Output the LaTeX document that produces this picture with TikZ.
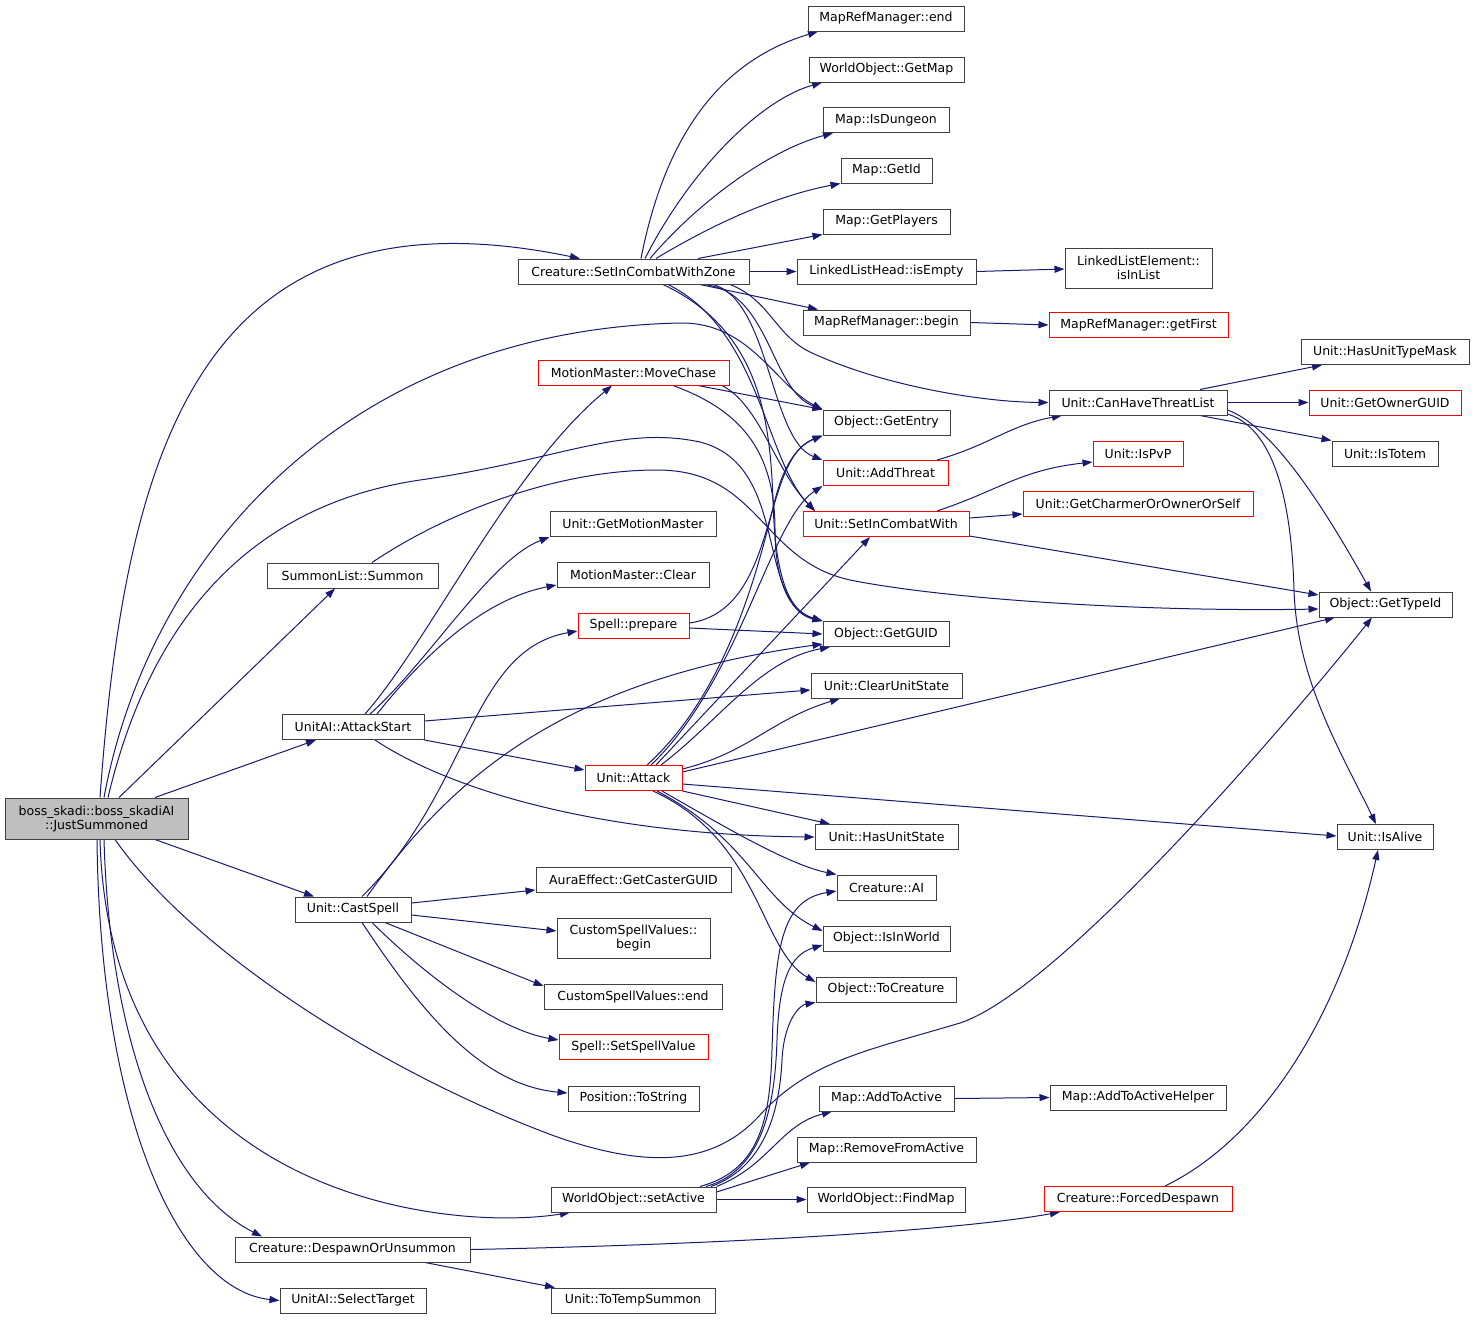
\documentclass[tikz,border=0pt]{standalone}
\usepackage{fontspec}
\setmainfont{DejaVu Sans}
\usetikzlibrary{arrows.meta}
\definecolor{edgec}{HTML}{191970}
\definecolor{bordc}{HTML}{404040}
\definecolor{redc}{HTML}{FF0000}
\definecolor{bossfill}{HTML}{BFBFBF}
\pgfdeclarelayer{back}
\pgfdeclarelayer{bg}
\pgfsetlayers{back,bg,main}
\begin{document}
\begin{tikzpicture}[x=1pt,y=-1pt,
 box/.style={draw=bordc,line width=1pt,fill=white,inner sep=0pt,minimum height=25pt,font=\fontsize{12.5}{14}\selectfont,align=center},
 rbox/.style={box,draw=redc},
 edge/.style={draw=edgec,line width=1pt,-{Triangle[length=10pt,width=7pt]}}]
\useasboundingbox (0,0) rectangle (1475,1320);
\begin{pgfonlayer}{back}
\fill[white] (0,0) rectangle (1475,1320);
\end{pgfonlayer}

\node[box,fill=bossfill,minimum width=183pt,minimum height=41pt] (B) at (96.5,818.5) {boss\_skadi::boss\_skadiAI\\::JustSummoned};
\node[box,minimum width=231pt] (SIZ) at (633.5,271.5) {Creature::SetInCombatWithZone};
\node[box,minimum width=156pt] (MRend) at (886,18.5) {MapRefManager::end};
\node[box,minimum width=155pt] (GetMap) at (886.5,69.5) {WorldObject::GetMap};
\node[box,minimum width=126pt] (IsDungeon) at (886,120) {Map::IsDungeon};
\node[box,minimum width=91pt] (GetId) at (886.5,170.5) {Map::GetId};
\node[box,minimum width=127pt] (GetPlayers) at (886.5,221.5) {Map::GetPlayers};
\node[box,minimum width=179pt] (isEmpty) at (886.5,271.5) {LinkedListHead::isEmpty};
\node[box,minimum width=167pt] (MRbegin) at (886.5,322.5) {MapRefManager::begin};
\node[box,minimum width=147pt,minimum height=40pt] (isInList) at (1138.5,268) {LinkedListElement::\\isInList};
\node[rbox,minimum width=179pt] (getFirst) at (1138.5,325) {MapRefManager::getFirst};
\node[box,minimum width=168pt] (HasUTM) at (1385,352) {Unit::HasUnitTypeMask};
\node[box,minimum width=178pt] (CHTL) at (1138,402.5) {Unit::CanHaveThreatList};
\node[rbox,minimum width=152pt] (GetOwner) at (1385,402.5) {Unit::GetOwnerGUID};
\node[box,minimum width=106pt] (IsTotem) at (1385,453.5) {Unit::IsTotem};
\node[rbox,minimum width=90pt] (IsPvP) at (1138,453.5) {Unit::IsPvP};
\node[rbox,minimum width=230pt] (GetCharmer) at (1138,503.5) {Unit::GetCharmerOrOwnerOrSelf};
\node[box,minimum width=133pt] (GetTypeId) at (1385.5,604.5) {Object::GetTypeId};
\node[box,minimum width=96pt] (IsAlive) at (1385,837) {Unit::IsAlive};
\node[box,minimum width=176pt] (ATAH) at (1138,1097.5) {Map::AddToActiveHelper};
\node[rbox,minimum width=188pt] (Forced) at (1138,1199) {Creature::ForcedDespawn};

\node[box,minimum width=127pt] (GetEntry) at (886.5,422.5) {Object::GetEntry};
\node[rbox,minimum width=125pt] (AddThreat) at (885.5,473) {Unit::AddThreat};
\node[rbox,minimum width=166pt] (SICW) at (886,524) {Unit::SetInCombatWith};
\node[box,minimum width=126pt] (GetGUID) at (886,634) {Object::GetGUID};
\node[box,minimum width=151pt] (ClearUS) at (886.5,685.5) {Unit::ClearUnitState};
\node[box,minimum width=143pt] (HasUS) at (886.5,837) {Unit::HasUnitState};
\node[box,minimum width=99pt] (CAI) at (886.5,887.5) {Creature::AI};
\node[box,minimum width=127pt] (IsInWorld) at (886.5,938.5) {Object::IsInWorld};
\node[box,minimum width=140pt] (ToCreature) at (886,989.5) {Object::ToCreature};
\node[box,minimum width=135pt] (AddToActive) at (886.5,1098.5) {Map::AddToActive};
\node[box,minimum width=179pt] (RemoveFA) at (886.5,1149.5) {Map::RemoveFromActive};
\node[box,minimum width=158pt] (FindMap) at (886,1199.5) {WorldObject::FindMap};

\node[rbox,minimum width=191pt] (MoveChase) at (633.5,372.5) {MotionMaster::MoveChase};
\node[box,minimum width=166pt] (GetMM) at (633,524) {Unit::GetMotionMaster};
\node[box,minimum width=152pt] (MMClear) at (633,575) {MotionMaster::Clear};
\node[rbox,minimum width=111pt] (Prepare) at (633.5,625.5) {Spell::prepare};
\node[rbox,minimum width=97pt] (Attack) at (633.5,778) {Unit::Attack};
\node[box,minimum width=195pt] (Aura) at (633.5,879.5) {AuraEffect::GetCasterGUID};
\node[box,minimum width=153pt,minimum height=40pt] (CSVb) at (633.5,938.5) {CustomSpellValues::\\begin};
\node[box,minimum width=178pt] (CSVe) at (633,997) {CustomSpellValues::end};
\node[rbox,minimum width=149pt] (SetSV) at (633.5,1047) {Spell::SetSpellValue};
\node[box,minimum width=131pt] (ToString) at (633.5,1098.5) {Position::ToString};
\node[box,minimum width=165pt] (SetActive) at (633.5,1199.5) {WorldObject::setActive};
\node[box,minimum width=164pt] (ToTemp) at (633,1300.5) {Unit::ToTempSummon};

\node[box,minimum width=171pt] (Summon) at (352.5,575.5) {SummonList::Summon};
\node[box,minimum width=142pt] (AttackStart) at (353,727) {UnitAI::AttackStart};
\node[box,minimum width=116pt] (CastSpell) at (353,909.5) {Unit::CastSpell};
\node[box,minimum width=235pt] (Despawn) at (352.5,1249.5) {Creature::DespawnOrUnsummon};
\node[box,minimum width=146pt] (SelectTarget) at (353,1300.5) {UnitAI::SelectTarget};

\begin{pgfonlayer}{bg}
% boss
\draw[edge] (B.north -| 100,0) .. controls (125,450) and (200,180) .. (SIZ.north -| 580,0);
\draw[edge] (B.north -| 104,0) .. controls (150,550) and (350,330) .. (680,323) .. controls (750,322) and (775,385) .. (GetEntry.north west);
\draw[edge] (B.north -| 108,0) .. controls (150,620) and (250,505) .. (420,480) .. controls (560,460) and (620,425) .. (700,442) .. controls (790,465) and (755,600) .. (GetGUID.north west);
\draw[edge] (B.north -| 119,0) -- (Summon.south -| 335,0);
\draw[edge] (B.north -| 155,0) -- (AttackStart.south -| 316,0);
\draw[edge] (B.south -| 155,0) -- (CastSpell.north -| 314,0);
\draw[edge] (B.south -| 115,0) .. controls (200,960) and (400,1080) .. (560,1138) .. controls (640,1165) and (710,1170) .. (760,1115) .. controls (810,1060) and (870,1050) .. (960,1023) .. controls (1060,990) and (1290,720) .. (GetTypeId.south -| 1372,0);
\draw[edge] (B.south -| 100,0) .. controls (110,1200) and (450,1232) .. (SetActive.south -| 570,0);
\draw[edge] (B.south -| 104,0) .. controls (110,1050) and (170,1190) .. (Despawn.north -| 262,0);
\draw[edge] (B.south -| 97,0) .. controls (100,1120) and (180,1290) .. (SelectTarget.west);
% summon
\draw[edge] (Summon.north -| 372,0) .. controls (450,510) and (560,470) .. (657,470) .. controls (760,470) and (760,560) .. (850,580) .. controls (950,600) and (1150,612) .. (GetTypeId.west |- 0,609);
% attackstart
\draw[edge] (AttackStart.north -| 365,0) .. controls (430,640) and (510,470) .. (MoveChase.south -| 612,0);
\draw[edge] (AttackStart.north -| 370,0) .. controls (430,660) and (490,560) .. (GetMM.south west);
\draw[edge] (AttackStart.north -| 377,0) .. controls (420,660) and (480,600) .. (MMClear.west |- 0,585);
\draw[edge] (AttackStart.east |- 0,721) -- (ClearUS.west |- 0,690);
\draw[edge] (AttackStart.south east) -- (Attack.west |- 0,770);
\draw[edge] (AttackStart.south -| 375,0) .. controls (450,790) and (600,835) .. (HasUS.west);
% castspell
\draw[edge] (CastSpell.north -| 362,0) .. controls (470,790) and (470,650) .. (Prepare.west |- 0,631);
\draw[edge] (CastSpell.north -| 367,0) .. controls (450,780) and (560,680) .. (GetGUID.west |- 0,644);
\draw[edge] (CastSpell.east |- 0,903) -- (Aura.west |- 0,890);
\draw[edge] (CastSpell.east |- 0,915) -- (CSVb.west |- 0,931);
\draw[edge] (CastSpell.south -| 385,0) -- (CSVe.west |- 0,986);
\draw[edge] (CastSpell.south -| 372,0) .. controls (430,980) and (500,1030) .. (SetSV.west |- 0,1040);
\draw[edge] (CastSpell.south -| 362,0) .. controls (420,1010) and (480,1085) .. (ToString.west |- 0,1093);
% SetInCombatWithZone
\draw[edge] (SIZ.north -| 641,0) .. controls (670,110) and (740,55) .. (MRend.south -| 818,0);
\draw[edge] (SIZ.north -| 645,0) .. controls (690,170) and (760,100) .. (GetMap.south -| 822,0);
\draw[edge] (SIZ.north -| 650,0) .. controls (700,200) and (770,150) .. (IsDungeon.south -| 833,0);
\draw[edge] (SIZ.north -| 656,0) .. controls (720,220) and (780,195) .. (GetId.south west);
\draw[edge] (SIZ.north -| 698,0) -- (GetPlayers.south west);
\draw[edge] (SIZ.east) -- (isEmpty.west);
\draw[edge] (SIZ.south -| 700,0) -- (MRbegin.north -| 818,0);
\draw[edge] (SIZ.south -| 730,0) .. controls (770,300) and (775,335) .. (810,352) .. controls (880,385) and (980,402) .. (CHTL.west);
\draw[edge] (SIZ.south -| 703,0) .. controls (770,290) and (770,390) .. (GetEntry.north west);
\draw[edge] (SIZ.south -| 713,0) .. controls (770,300) and (770,440) .. (AddThreat.north west);
\draw[edge] (SIZ.south -| 663,0) .. controls (760,330) and (770,420) .. (773,500) .. controls (775,580) and (790,612) .. (GetGUID.north west);
\draw[edge] (SIZ.south -| 668,0) .. controls (760,330) and (765,460) .. (SICW.north -| 815,0);
% movechase
\draw[edge] (MoveChase.south -| 698,0) -- (GetEntry.north west);
\draw[edge] (MoveChase.south -| 673,0) .. controls (740,410) and (775,450) .. (775,530) .. controls (775,590) and (795,615) .. (GetGUID.north west);
\draw[edge] (MoveChase.south -| 722,0) .. controls (760,405) and (775,470) .. (SICW.north -| 815,0);
% prepare
\draw[edge] (Prepare.east |- 0,623) .. controls (780,610) and (760,460) .. (GetEntry.south west);
\draw[edge] (Prepare.east |- 0,628) -- (GetGUID.west |- 0,634);
% attack
\draw[edge] (Attack.north -| 647,0) .. controls (730,690) and (760,560) .. (775,500) .. controls (785,460) and (800,445) .. (GetEntry.south west);
\draw[edge] (Attack.north -| 651,0) .. controls (740,680) and (770,520) .. (AddThreat.south west);
\draw[edge] (Attack.north -| 656,0) -- (SICW.south -| 870,0);
\draw[edge] (Attack.north -| 661,0) .. controls (720,720) and (760,660) .. (GetGUID.south -| 830,0);
\draw[edge] (Attack.east |- 0,769) .. controls (750,752) and (770,720) .. (ClearUS.south -| 840,0);
\draw[edge] (Attack.east |- 0,772) -- (GetTypeId.south -| 1335,0);
\draw[edge] (Attack.east |- 0,784) -- (IsAlive.west |- 0,836);
\draw[edge] (Attack.south east) -- (HasUS.north -| 830,0);
\draw[edge] (Attack.south -| 662,0) .. controls (730,830) and (790,865) .. (CAI.north west);
\draw[edge] (Attack.south -| 657,0) .. controls (750,840) and (760,900) .. (IsInWorld.west |- 0,931);
\draw[edge] (Attack.south -| 653,0) .. controls (760,840) and (760,950) .. (ToCreature.west |- 0,982);
% setactive
\draw[edge] (SetActive.north -| 700,0) .. controls (760,1170) and (770,1120) .. (772,1050) .. controls (775,950) and (780,900) .. (CAI.west |- 0,891);
\draw[edge] (SetActive.north -| 706,0) .. controls (765,1170) and (775,1100) .. (777,1040) .. controls (779,980) and (790,955) .. (IsInWorld.west |- 0,945);
\draw[edge] (SetActive.north -| 711,0) .. controls (770,1165) and (780,1100) .. (782,1060) .. controls (784,1020) and (800,1005) .. (ToCreature.south west);
\draw[edge] (SetActive.north east) .. controls (770,1165) and (780,1125) .. (AddToActive.south -| 832,0);
\draw[edge] (SetActive.east |- 0,1192) -- (RemoveFA.south -| 810,0);
\draw[edge] (SetActive.east) -- (FindMap.west);
% others
\draw[edge] (isEmpty.east) -- (isInList.west |- 0,269);
\draw[edge] (MRbegin.east) -- (getFirst.west);
\draw[edge] (AddThreat.north -| 937,0) .. controls (990,445) and (1010,425) .. (CHTL.south -| 1062,0);
\draw[edge] (SICW.north -| 937,0) .. controls (1000,490) and (1020,470) .. (IsPvP.west |- 0,462);
\draw[edge] (SICW.east |- 0,518) -- (GetCharmer.west |- 0,514);
\draw[edge] (SICW.east |- 0,536) -- (GetTypeId.west |- 0,595);
\draw[edge] (CHTL.north -| 1200,0) -- (HasUTM.south -| 1322,0);
\draw[edge] (CHTL.east) -- (GetOwner.west);
\draw[edge] (CHTL.south -| 1200,0) -- (IsTotem.north west);
\draw[edge] (CHTL.east |- 0,410) .. controls (1270,425) and (1320,500) .. (GetTypeId.north -| 1371,0);
\draw[edge] (CHTL.east |- 0,414) .. controls (1280,430) and (1292,520) .. (1294,590) .. controls (1297,680) and (1340,750) .. (IsAlive.north -| 1376,0);
\draw[edge] (Forced.north -| 1165,0) .. controls (1260,1140) and (1340,1020) .. (IsAlive.south -| 1378,0);
\draw[edge] (AddToActive.east) -- (ATAH.west);
\draw[edge] (Despawn.east) .. controls (700,1245) and (950,1232) .. (Forced.south -| 1060,0);
\draw[edge] (Despawn.south -| 425,0) -- (ToTemp.north -| 555,0);
\end{pgfonlayer}
\end{tikzpicture}
\end{document}
